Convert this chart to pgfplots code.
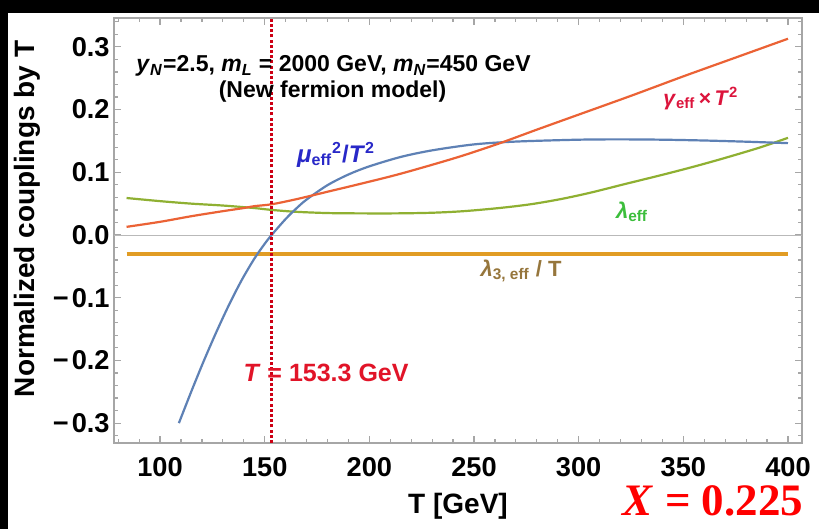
\documentclass[border=0pt]{standalone}
\usepackage{fontspec}
\setmainfont{Liberation Sans}
\newfontfamily\timesf{Liberation Serif}
\usepackage{pgfplots}
\pgfplotsset{compat=1.18}
\definecolor{mblue}{RGB}{94,129,181}
\definecolor{mgold}{RGB}{225,156,36}
\definecolor{mgreen}{RGB}{143,176,50}
\definecolor{morange}{RGB}{235,98,53}
\definecolor{dred}{RGB}{205,0,20}
\definecolor{lblue}{RGB}{40,40,200}
\definecolor{lred}{RGB}{220,20,60}
\definecolor{lgreen}{RGB}{60,190,60}
\definecolor{lbrown}{RGB}{150,118,60}
\definecolor{tred}{RGB}{225,20,40}
\newcommand{\mn}{−\kern1.5pt}
\begin{document}
\begin{tikzpicture}
\fill[black] (0,0) rectangle (409.5pt,264.5pt);
\fill[white] (4pt,0) rectangle (409.5pt,258pt);
\begin{axis}[
  at={(57pt,43pt)}, anchor=south west,
  scale only axis, width=344pt, height=212.5pt,
  xmin=78, xmax=406.7, ymin=-0.3317, ymax=0.3461,
  axis line style={draw=gray!70, line width=0.6pt},
  xtick={100,150,200,250,300,350,400},
  xticklabels={100,150,200,250,300,350,400},
  minor xtick={80,90,...,400},
  ytick={-0.3,-0.2,-0.1,0,0.1,0.2,0.3},
  yticklabels={\mn0.3,\mn0.2,\mn0.1,0.0,0.1,0.2,0.3},
  minor ytick={-0.32,-0.28,-0.26,-0.24,-0.22,-0.18,-0.16,-0.14,-0.12,-0.08,-0.06,-0.04,-0.02,0.02,0.04,0.06,0.08,0.12,0.14,0.16,0.18,0.22,0.24,0.26,0.28,0.32,0.34},
  tick align=inside, tick pos=both, xticklabel pos=bottom, yticklabel pos=left,
  major tick length=3.5pt, minor tick length=2pt,
  tick style={draw=gray!70, line width=0.6pt},
  ticklabel style={font=\bfseries\fontsize{13.6}{13.6}\selectfont, inner sep=0pt},
  xticklabel style={yshift=-7pt},
  yticklabel style={xshift=-2pt},
  xlabel={T [GeV]}, ylabel={Normalized couplings by T},
  label style={font=\bfseries\fontsize{14}{14}\selectfont},
  xlabel style={at={(axis description cs:0.5,-0.148)}, anchor=center},
  ylabel style={at={(axis description cs:-0.1265,0.527)}, anchor=center},
  clip=false,
]
\addplot[gray!55, line width=0.5pt] coordinates {(78,0) (406.7,0)};
\addplot[mgold, line width=2.3pt] coordinates {(84,-0.030) (400,-0.030)};
\addplot[mgreen, line width=1.1pt, smooth] coordinates {
(84,0.059) (100,0.054) (115,0.050) (130,0.047) (145,0.043) (153.3,0.040) (165,0.037) (180,0.035) (195,0.0345) (213,0.0345) (230,0.0355) (245,0.038) (262,0.043) (277,0.049) (291,0.057) (305,0.067) (323,0.082) (340,0.096) (355,0.109) (370,0.123) (387,0.140) (400,0.155)};
\addplot[mblue, line width=1.1pt, smooth] coordinates {
(109,-0.300) (115,-0.249) (121,-0.200) (127,-0.154) (133,-0.111) (139,-0.072) (145,-0.038) (150,-0.014) (153.3,0.000) (160,0.0255) (165,0.042) (170,0.0565) (180,0.0795) (190,0.0965) (200,0.1095) (215,0.1245) (230,0.135) (250,0.1445) (270,0.149) (300,0.152) (320,0.1525) (340,0.152) (360,0.1507) (380,0.1488) (400,0.1465)};
\addplot[morange, line width=1.1pt, smooth] coordinates {
(84,0.013) (100,0.021) (115,0.030) (130,0.038) (140,0.043) (145,0.046) (153.3,0.049) (165,0.057) (180,0.069) (195,0.081) (213,0.096) (230,0.112) (245,0.127) (262,0.146) (280,0.168) (300,0.192) (325,0.222) (350,0.253) (375,0.283) (400,0.313)};
\addplot[dred, line width=1.8pt, dash pattern=on 1.5pt off 1.1pt] coordinates {(153.3,-0.3317) (153.3,0.3461)};
\node[anchor=base, font=\bfseries\fontsize{11.5}{11.5}\selectfont] at (axis cs:182.9,0.260)
  {\textit{y}\textsubscript{\textit{N}}=2.5, \textit{m}\textsubscript{\textit{L}} = 2000 GeV, \textit{m}\textsubscript{\textit{N}}=450 GeV};
\node[anchor=base, font=\bfseries\fontsize{11.5}{11.5}\selectfont] at (axis cs:182.4,0.2185) {(New fermion model)};
\node[anchor=center, text=lblue, font=\bfseries\fontsize{12}{12}\selectfont] at (axis cs:184.1,0.128)
  {\textit{μ}\textsubscript{eff}\textsuperscript{2}/\textit{T}\textsuperscript{2}};
\node[anchor=center, text=lred, font=\bfseries\fontsize{10.6}{10.6}\selectfont] at (axis cs:358.4,0.218)
  {\textit{γ}\textsubscript{eff}\,×\,\textit{T}\textsuperscript{2}};
\node[anchor=center, text=lgreen, font=\bfseries\fontsize{11}{11}\selectfont] at (axis cs:325.5,0.037)
  {\textit{λ}\textsubscript{eff}};
\node[anchor=center, text=lbrown, font=\bfseries\fontsize{11}{11}\selectfont] at (axis cs:272.5,-0.057)
  {\textit{λ}\textsubscript{3, eff} / T};
\node[anchor=base, text=tred, font=\bfseries\fontsize{12.5}{12.5}\selectfont] at (axis cs:179.3,-0.2344)
  {\textit{T} = 153.3 GeV};
\node[anchor=base, inner sep=0pt, text=red, font=\timesf\bfseries\fontsize{22.5}{22.5}\selectfont] at (axis cs:364.2,-0.4466)
  {\textit{X} = 0.225};
\end{axis}
\pgfresetboundingbox
\useasboundingbox (0,0) rectangle (409.5pt,264.5pt);
\end{tikzpicture}
\end{document}
